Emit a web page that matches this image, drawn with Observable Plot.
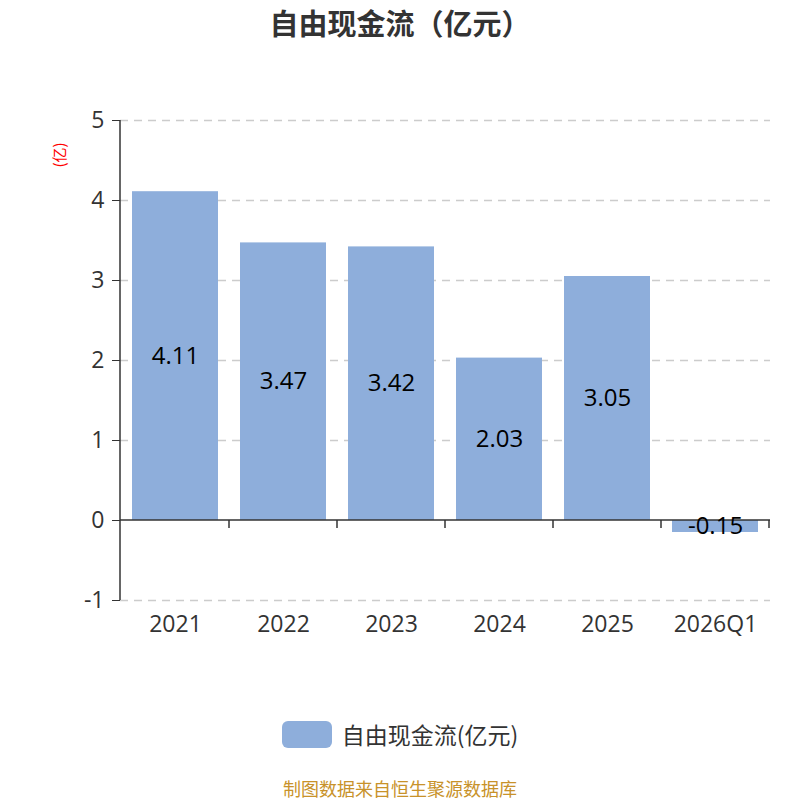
<!DOCTYPE html>
<html><head><meta charset="utf-8">
<script src="https://cdn.jsdelivr.net/npm/d3@7"></script>
<script src="https://cdn.jsdelivr.net/npm/@observablehq/plot@0.6"></script>
<style>
body{margin:0;background:#fff;font-family:"Open Sans","Noto Sans CJK SC",sans-serif;}
#wrap{position:relative;width:800px;height:800px;overflow:hidden;}
#title{position:absolute;top:4px;left:0;width:800px;text-align:center;font-size:29px;line-height:36px;font-weight:bold;color:#333;font-family:"Noto Sans CJK SC",sans-serif;}
#chart{position:absolute;top:0;left:0;}
#ylab{position:absolute;left:46px;top:145px;color:red;font-size:15px;line-height:20px;transform:rotate(-90deg);transform-origin:center;font-family:"Noto Sans CJK SC",sans-serif;}
#legend{position:absolute;top:720px;left:0;width:800px;display:flex;justify-content:center;align-items:center;font-size:23px;line-height:28px;color:#333;font-family:"Noto Sans CJK SC",sans-serif;}
#legend .sw{width:50px;height:27px;border-radius:6px;background:#8eaedb;margin-right:10px;}
#footer{position:absolute;top:779px;left:0;width:800px;height:18px;text-align:center;font-size:18px;line-height:18px;color:#c8922a;font-family:"Noto Sans CJK SC",sans-serif;}
</style></head>
<body>
<div id="wrap">
<div id="title">自由现金流（亿元）</div>
<div id="chart"></div>
<div id="ylab">(亿)</div>
<div id="legend"><div class="sw"></div><span>自由现金流(亿元)</span></div>
<div id="footer">制图数据来自恒生聚源数据库</div>
</div>
<script>
const categories = ["2021","2022","2023","2024","2025","2026Q1"];
const values = [4.11, 3.47, 3.42, 2.03, 3.05, -0.15];
const yTicks = [-1, 0, 1, 2, 3, 4, 5];
const gridTicks = [-1, 1, 2, 3, 4, 5];

const data = categories.map((c, i) => ({year: c, value: values[i]}));
const barColor = "#8eaedb";

const axisMark = (index, scales, values, dimensions) => {
  const {width, height, marginLeft, marginRight, marginTop, marginBottom} = dimensions;
  const x = scales.x, y = scales.y;
  const g = d3.create("svg:g");
  const y0 = y(0);
  g.append("line").attr("x1", marginLeft).attr("x2", marginLeft)
    .attr("y1", marginTop).attr("y2", height - marginBottom)
    .attr("stroke", "#333").attr("stroke-width", 1.5);
  g.append("line").attr("x1", marginLeft).attr("x2", width - marginRight)
    .attr("y1", y0).attr("y2", y0)
    .attr("stroke", "#333").attr("stroke-width", 1.5);
  const step = (width - marginLeft - marginRight) / categories.length;
  categories.forEach((c, i) => {
    let bx;
    if (x && x.bandwidth) {
      const bw = x.bandwidth();
      const st = x.step ? x.step() : step;
      bx = x(c) + bw + (st - bw) / 2;
    } else {
      bx = marginLeft + (i + 1) * step;
    }
    g.append("line").attr("x1", bx).attr("x2", bx)
      .attr("y1", y0).attr("y2", y0 + 8)
      .attr("stroke", "#333").attr("stroke-width", 1.5);
  });
  return g.node();
};

const chart = Plot.plot({
  width: 800,
  height: 680,
  marginTop: 120,
  marginBottom: 80,
  marginLeft: 120,
  marginRight: 30,
  style: {fontFamily: "'Open Sans','Noto Sans CJK SC',sans-serif", fontSize: "23px", color: "#333", background: "transparent"},
  x: {domain: categories, paddingInner: 0.2, paddingOuter: 0.1, label: null, tickSize: 0, tickPadding: 15},
  y: {domain: [-1, 5], ticks: yTicks, tickSize: 8, tickPadding: 8, label: null, tickFormat: d => String(d)},
  marks: [
    Plot.ruleY(gridTicks, {y: d => d, stroke: "#ccc", strokeWidth: 1.5, strokeDasharray: "8,6"}),
    Plot.barY(data, {x: "year", y: "value", fill: barColor}),
    axisMark,
    Plot.text(data, {x: "year", y: d => d.value / 2, text: d => d.value.toFixed(2), fontSize: 24, fill: "#000"})
  ]
});
document.getElementById("chart").appendChild(chart);
</script>
</body></html>
